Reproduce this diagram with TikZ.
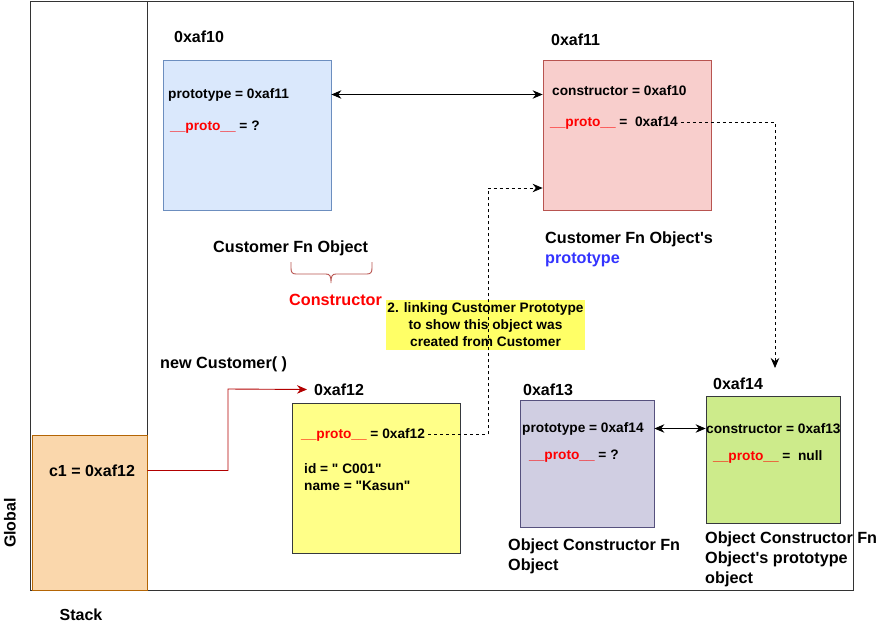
\documentclass[tikz,border=0pt]{standalone}
\usepackage{fontspec}
\setmainfont{Liberation Sans}[Ligatures=TeXOff]
\usetikzlibrary{arrows.meta}
\definecolor{bluefill}{HTML}{DAE8FC}\definecolor{bluedraw}{HTML}{6C8EBF}
\definecolor{redfill}{HTML}{F8CECC}\definecolor{reddraw}{HTML}{B85450}
\definecolor{yelfill}{HTML}{FFFF88}\definecolor{darkdraw}{HTML}{36393D}
\definecolor{orgfill}{HTML}{FAD7AC}\definecolor{orgdraw}{HTML}{B46504}
\definecolor{purfill}{HTML}{D0CEE2}\definecolor{purdraw}{HTML}{56517E}
\definecolor{grnfill}{HTML}{CDEB8B}
\definecolor{labelfill}{HTML}{FFFF66}
\definecolor{protored}{HTML}{FF0000}
\definecolor{protoblue}{HTML}{3333FF}
\definecolor{arrowred}{HTML}{B20000}
\newcommand{\pr}{\textcolor{protored}{\_\_proto\_\_}}
\begin{document}
\begin{tikzpicture}[x=1pt,y=-1pt,
  box/.style={draw, line width=0.8pt, inner sep=0pt},
  addr/.style={font=\bfseries\fontsize{16}{18}\selectfont, anchor=west, inner sep=0pt, yshift=-1.5pt},
  txt/.style={font=\bfseries\fontsize{13.7}{17}\selectfont, anchor=west, inner sep=0pt, align=left, yshift=-1.5pt},
  captxt/.style={font=\bfseries\fontsize{16.2}{20}\selectfont, anchor=west, inner sep=0pt, align=left, yshift=-1.5pt},
  framed/.style={draw=black!80, line width=0.9pt},
  arrtip/.style={-{Stealth[length=10pt,width=8.5pt]}},
  darrtip/.style={{Stealth[length=10pt,width=8.5pt]}-{Stealth[length=10pt,width=8.5pt]}},
  dashline/.style={dashed, dash pattern=on 3pt off 3pt, line width=0.8pt}
]
\useasboundingbox (0,0) rectangle (876,629);
% frames
\draw[framed] (30,1) rectangle (853,590);
\draw[framed] (147,1) -- (147,435);
% stack box
\node[box, fill=orgfill, draw=orgdraw, minimum width=115pt, minimum height=155pt] (stack) at (89.5,512.5) {};
\node[addr, anchor=center] (c1) at (92,469) {c1 = 0xaf12};
\node[font=\bfseries\fontsize{16}{18}\selectfont, rotate=90, inner sep=0pt] (global) at (10,523) {Global};
\node[font=\bfseries\fontsize{16}{18}\selectfont, inner sep=0pt] (stacklbl) at (81,615) {Stack};

% Customer Fn object
\node[addr] (a10) at (174,35) {0xaf10};
\node[box, fill=bluefill, draw=bluedraw, minimum width=168pt, minimum height=150pt] (blue) at (247,135) {};
\node[txt] (bp) at (168,93) {prototype = 0xaf11};
\node[txt] (bpr) at (170,126) {\pr{} = ?};
\node[captxt] (cfo) at (213,247) {Customer Fn Object};
\draw[reddraw, line width=0.9pt]
  (291,262) -- (291,268) .. controls (291,272) and (292,274) .. (296,274) -- (326,274)
  .. controls (330,274) and (331,276) .. (331,283)
  (331,283) .. controls (331,276) and (332,274) .. (336,274) -- (367,274)
  .. controls (371,274) and (372,272) .. (372,268) -- (372,262);
\node[captxt, text=protored] (ctor) at (289,298) {Constructor};

% Customer prototype
\node[addr] (a11) at (551,38) {0xaf11};
\node[box, fill=redfill, draw=reddraw, minimum width=168pt, minimum height=150pt] (red) at (627,135) {};
\node[txt] (rc) at (552,89) {constructor = 0xaf10};
\node[txt] (rp) at (550,121) {\pr{} =\ \ 0xaf14};
\node[captxt] (cfop) at (545,248) {Customer Fn Object's\\\textcolor{protoblue}{prototype}};

% label
\node[fill=labelfill, minimum width=199pt, minimum height=50pt, inner sep=0pt, align=center,
      font=\bfseries\fontsize{13.7}{17}\selectfont] (lbl) at (485.5,325)
      {2. linking Customer Prototype\\to show this object was\\created from Customer};

% new customer
\node[captxt] (newc) at (160,363) {new Customer( )};
\node[addr] (a12) at (314,388) {0xaf12};
\node[box, fill=yelfill, draw=darkdraw, minimum width=168pt, minimum height=150pt] (yel) at (376,478) {};
\node[txt] (yp) at (301,433) {\pr{} = 0xaf12};
\node[txt] (yid) at (304,475.5) {id = " C001"\\name = "Kasun"};

% Object constructor
\node[addr] (a13) at (523,388) {0xaf13};
\node[box, fill=purfill, draw=purdraw, minimum width=134pt, minimum height=127pt] (pur) at (587,463.5) {};
\node[txt] (pp) at (522,427) {prototype = 0xaf14};
\node[txt] (ppr) at (529,455) {\pr{} = ?};
\node[captxt] (ocf) at (508,555) {Object Constructor Fn\\Object};

% Object prototype
\node[addr] (a14) at (713,382) {0xaf14};
\node[box, fill=grnfill, draw=darkdraw, minimum width=134pt, minimum height=127pt] (grn) at (773,459.5) {};
\node[txt] (gc) at (706,427) {constructor = 0xaf13};
\node[txt] (gpr) at (713,455) {\pr{} =\ \ null};
\node[captxt] (ocp) at (705,558) {Object Constructor Fn\\Object's prototype\\object};

% connectors
\draw[darrtip, line width=0.9pt] (blue.east |- bp.center) -- (red.west |- bp.center);
\draw[darrtip, line width=0.9pt] (pur.east |- pp.center) -- (grn.west |- pp.center);
\coordinate (c14) at (775,368);
\draw[dashline, arrtip] ([xshift=3pt]rp.east) -| (c14);
\coordinate (bend) at (488,188);
\draw[dashline, arrtip] ([xshift=3pt]yp.east) -| (bend) -- (red.west |- bend);
\coordinate (rbend) at (228,389);
\draw[arrowred, line width=0.9pt, arrtip] (stack.east |- c1.center) -| (rbend) -- ([xshift=-7pt]a12.west);
\end{tikzpicture}
\end{document}
